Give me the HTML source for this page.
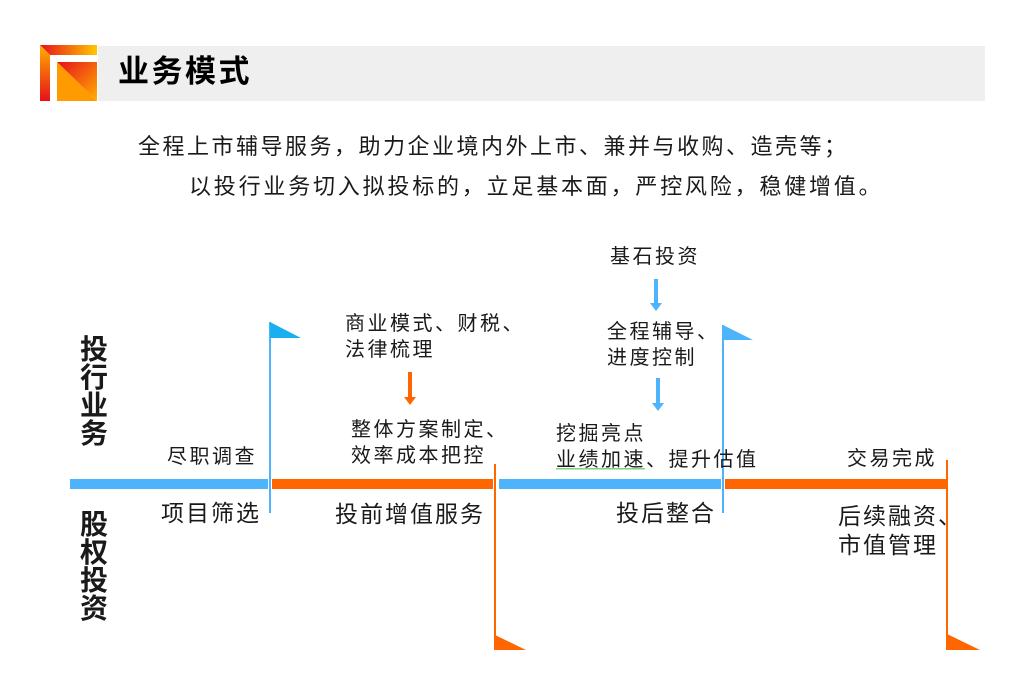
<!DOCTYPE html>
<html><head><meta charset="utf-8"><style>
body{margin:0;width:1028px;height:686px;background:#fff;position:relative;overflow:hidden;font-family:"Liberation Sans","Noto Sans CJK SC",sans-serif;color:#1a1a1a}
.t{position:absolute;white-space:nowrap;line-height:1;letter-spacing:2.5px}
.b{letter-spacing:2px}
.v{position:absolute;font-weight:bold;font-size:28px;line-height:28px;width:30px;text-align:center}
</style></head><body>
<div style="position:absolute;left:98px;top:46px;width:887px;height:55px;background:#efefef"></div>
<svg style="position:absolute;left:0;top:0" width="1028" height="686">
<defs>
<linearGradient id="g1" x1="0" y1="0" x2="1" y2="0"><stop offset="0" stop-color="#e8101a"/><stop offset="1" stop-color="#ffc800"/></linearGradient>
<linearGradient id="g2" x1="0" y1="0" x2="0" y2="1"><stop offset="0" stop-color="#ffb000"/><stop offset="1" stop-color="#e8101a"/></linearGradient>
<linearGradient id="g3" x1="0" y1="0" x2="1" y2="1"><stop offset="0" stop-color="#e8101a"/><stop offset="1" stop-color="#ffb000"/></linearGradient>
</defs>
<polygon points="40,45 97,45 97,55 50,55" fill="url(#g1)"/>
<polygon points="40,45 50,55 50,101 40,101" fill="url(#g2)"/>
<polygon points="57,62 97,62 97,101" fill="url(#g3)"/>
<polygon points="57,62 97,101 57,101" fill="#ff9a00"/>
<rect x="70" y="479" width="198" height="10" fill="#4db3fb"/>
<rect x="272" y="479" width="221" height="10" fill="#ff6600"/>
<rect x="499" y="479" width="222" height="10" fill="#4db3fb"/>
<rect x="725" y="479" width="221" height="10" fill="#ff6600"/>
<rect x="269" y="322" width="2" height="191" fill="#4db3fb"/>
<polygon points="270,322 301,338 270,338" fill="#1ab0f0"/>
<rect x="722" y="325" width="2" height="188" fill="#4db3fb"/>
<polygon points="723,325 753,340 723,340" fill="#4db3fb"/>
<rect x="494" y="464" width="2" height="186" fill="#ff6600"/>
<polygon points="495,635 526,650 495,650" fill="#ff6600"/>
<rect x="946" y="460" width="2" height="190" fill="#ff6600"/>
<polygon points="947,634 980,650 947,650" fill="#ff6600"/>
<rect x="408" y="372" width="4" height="26" fill="#ff6600"/><polygon points="404,397 416,397 410,405" fill="#ff6600"/>
<rect x="654" y="279" width="4" height="25" fill="#4db3fb"/><polygon points="650,303 662,303 656,311" fill="#4db3fb"/>
<rect x="656" y="378" width="4" height="26" fill="#4db3fb"/><polygon points="652,403 664,403 658,411" fill="#4db3fb"/>
<rect x="556" y="468" width="89" height="1.5" fill="#7ad67a"/>
</svg>
<div class="t" style="left:118px;top:56px;font-size:31px;font-weight:bold;color:#000">业务模式</div>
<div class="t" style="left:138px;top:136px;font-size:22px">全程上市辅导服务，助力企业境内外上市、兼并与收购、造壳等；</div>
<div class="t" style="left:189px;top:176px;font-size:22px;letter-spacing:2.8px">以投行业务切入拟投标的，立足基本面，严控风险，稳健增值。</div>
<div class="v" style="left:79px;top:336px">投<br>行<br>业<br>务</div>
<div class="v" style="left:79px;top:511px">股<br>权<br>投<br>资</div>
<div class="t" style="left:167px;top:447px;font-size:20px">尽职调查</div>
<div class="t b" style="left:161px;top:502px;font-size:23px">项目筛选</div>
<div class="t" style="left:345px;top:311px;font-size:20px;line-height:26px">商业模式、财税、<br>法律梳理</div>
<div class="t" style="left:351px;top:417px;font-size:20px;line-height:26px">整体方案制定、<br>效率成本把控</div>
<div class="t b" style="left:335px;top:503px;font-size:23px">投前增值服务</div>
<div class="t" style="left:610px;top:247px;font-size:20px">基石投资</div>
<div class="t" style="left:607px;top:319px;font-size:20px;line-height:26px">全程辅导、<br>进度控制</div>
<div class="t" style="left:556px;top:421px;font-size:20px;line-height:26px">挖掘亮点<br>业绩加速、提升估值</div>
<div class="t b" style="left:616px;top:502px;font-size:23px">投后整合</div>
<div class="t" style="left:847px;top:449px;font-size:20px">交易完成</div>
<div class="t b" style="left:838px;top:502px;font-size:23px;line-height:29px">后续融资、<br>市值管理</div>
</body></html>
